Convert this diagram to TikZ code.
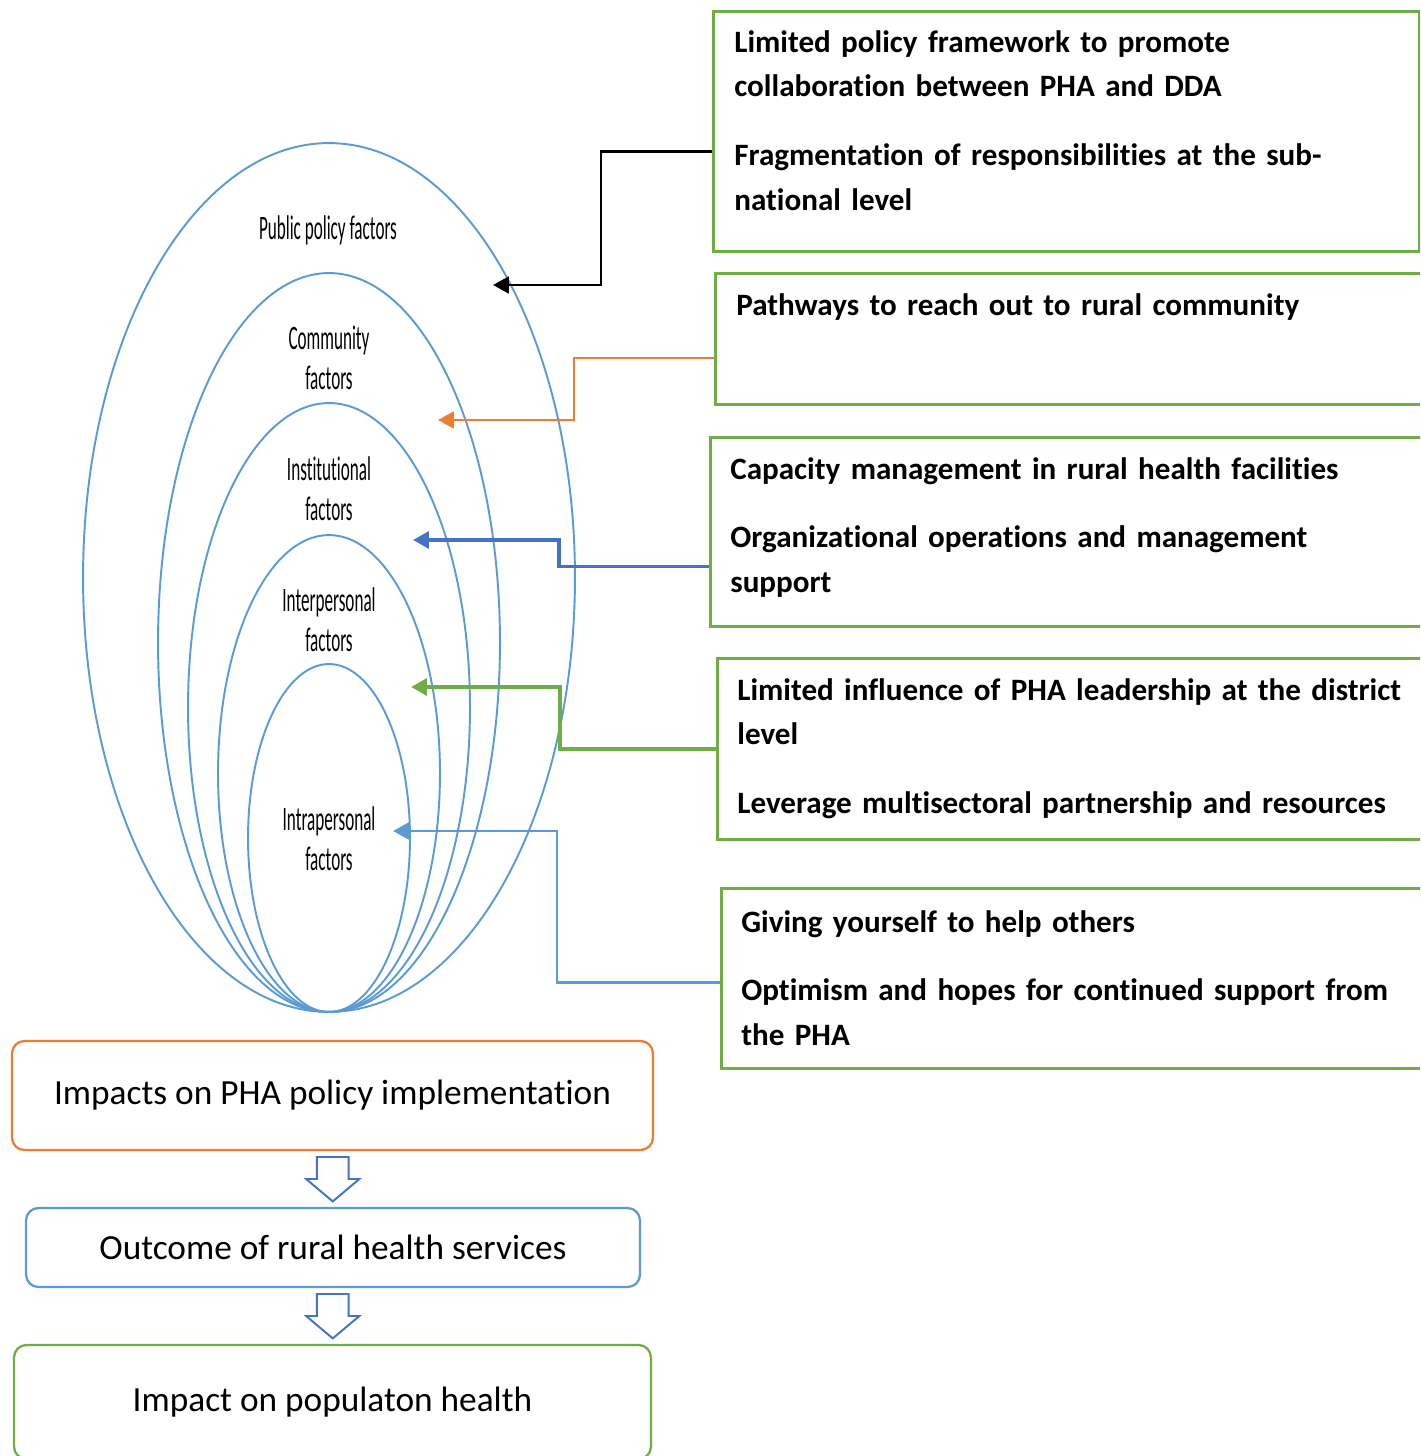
\documentclass[tikz,border=0pt]{standalone}
\usepackage{fontspec}
\setmainfont{Carlito}[Ligatures=NoCommon]
\newfontfamily\narrowfont[FakeStretch=0.5,Ligatures=NoCommon]{Carlito}
\usetikzlibrary{positioning,arrows.meta,shapes.geometric,calc}

\definecolor{ringblue}{HTML}{5B9BD5}
\definecolor{boxgreen}{HTML}{70AD47}
\definecolor{linkorange}{HTML}{ED7D31}
\definecolor{linkblue}{HTML}{4472C4}

\begin{document}
\begin{tikzpicture}[x=0.02cm, y=-0.02cm,
    ring/.style={ellipse, draw=ringblue, line width=1.1pt, inner sep=0pt},
    factor/.style={align=center, font=\narrowfont\fontsize{19.5}{22.7}\selectfont},
    panel/.style={rectangle, draw=boxgreen, line width=1.5pt, anchor=north west, inner sep=0pt},
    note/.style={anchor=north west, inner sep=0pt, text width=14cm, align=left,
        font=\bfseries\fontsize{17.7}{25.5}\selectfont},
    stage/.style={rectangle, rounded corners=7pt, line width=1.3pt, fill=white,
        font=\fontsize{20.1}{24}\selectfont},
    link/.style={-{Triangle[length=9pt,width=9.5pt]}},
    flow/.style={draw=linkblue, line width=1.1pt, line join=miter}
]
    \clip (0,0) rectangle (1420,1456);

    % nested levels of influence
    \node[ring, minimum width=9.84cm, minimum height=17.38cm] (public) at (329,577.5) {};
    \node[ring, minimum width=6.84cm, minimum height=14.78cm] (community) at (329,642.5) {};
    \node[ring, minimum width=5.64cm, minimum height=12.18cm] (institution) at (329,707.5) {};
    \node[ring, minimum width=4.44cm, minimum height=9.54cm] (inter) at (329,773.5) {};
    \node[ring, minimum width=3.24cm, minimum height=6.96cm] (intra) at (329,838) {};

    \node[factor] (publiclabel) at (328,230.5) {Public policy factors};
    \node[factor] (communitylabel) at (329,358) {Community\\factors};
    \node[factor] (institutionlabel) at (329,488.5) {Institutional\\factors};
    \node[factor] (interlabel) at (329,620) {Interpersonal\\factors};
    \node[factor] (intralabel) at (329,839) {Intrapersonal\\factors};

    \coordinate (publictip) at (493,285);
    \coordinate (communitytip) at (438,420);
    \coordinate (institutiontip) at (413,540);
    \coordinate (intertip) at (411,687);
    \coordinate (intratip) at (393,831);

    % findings on the right
    \node[panel, minimum width=14.12cm, minimum height=4.8cm] (framebox) at (712,10) {};
    \node[note] (frametext) at ([shift={(22,20)}]framebox.north west)
        {Limited policy framework to promote\\
         collaboration between PHA and DDA\\[13.6pt]
         Fragmentation of responsibilities at the sub-\\
         national level};

    \node[panel, minimum width=14.5cm, minimum height=2.62cm] (reachbox) at (714,272) {};
    \node[note] (reachtext) at ([shift={(22,21)}]reachbox.north west)
        {Pathways to reach out to rural community};

    \node[panel, minimum width=14.5cm, minimum height=3.78cm] (capbox) at (709,436) {};
    \node[note] (captext) at ([shift={(21,21)}]capbox.north west)
        {Capacity management in rural health facilities\\[13.6pt]
         Organizational operations and management\\
         support};

    \node[panel, minimum width=14.5cm, minimum height=3.62cm] (leadbox) at (716,657) {};
    \node[note] (leadtext) at ([shift={(21,21)}]leadbox.north west)
        {Limited influence of PHA leadership at the district\\
         level\\[13.6pt]
         Leverage multisectoral partnership and resources};

    \node[panel, minimum width=14.5cm, minimum height=3.6cm] (selfbox) at (720,887) {};
    \node[note] (selftext) at ([shift={(21,23)}]selfbox.north west)
        {Giving yourself to help others\\[13.6pt]
         Optimism and hopes for continued support from\\
         the PHA};

    % links from findings to levels
    \draw[link, line width=1.5pt] ([shift={(0,20)}]framebox.west) -| ([shift={(108,0)}]publictip) -- (publictip);
    \draw[link, linkorange, line width=1.3pt] ([shift={(0,19.5)}]reachbox.west) -| ([shift={(136,0)}]communitytip) -- (communitytip);
    \draw[link, linkblue, line width=2pt] ([shift={(0,34.5)}]capbox.west) -| ([shift={(146,0)}]institutiontip) -- (institutiontip);
    \draw[link, boxgreen, line width=2.2pt] (leadbox.west) -| ([shift={(149,0)}]intertip) -- (intertip);
    \draw[link, ringblue, line width=1.4pt] ([shift={(0,4)}]selfbox.west) -| ([shift={(164,0)}]intratip) -- (intratip);

    % outcome chain
    \node[stage, draw=linkorange, minimum width=12.82cm, minimum height=2.18cm] (impl) at (332.5,1095.5) {Impacts on PHA policy implementation};
    \node[stage, draw=ringblue, minimum width=12.28cm, minimum height=1.58cm] (outc) at (333,1247.5) {Outcome of rural health services};
    \node[stage, draw=boxgreen, minimum width=12.74cm, minimum height=2.28cm] (popu) at (332.5,1402) {Impact on populaton health};

    % hollow block arrows between the stages
    \foreach \a/\b [count=\i] in {impl/outc, outc/popu} {
        \coordinate (gap\i) at ($(\a.south)!0.5!(\b.north)$);
        \draw[flow] ([shift={(-15.8,-22)}]gap\i) -- ([shift={(15.8,-22)}]gap\i)
            -- ([shift={(15.8,0)}]gap\i) -- ([shift={(26.6,0)}]gap\i)
            -- ([shift={(0,22.4)}]gap\i) -- ([shift={(-26.6,0)}]gap\i)
            -- ([shift={(-15.8,0)}]gap\i) -- cycle;
    }
\end{tikzpicture}
\end{document}
